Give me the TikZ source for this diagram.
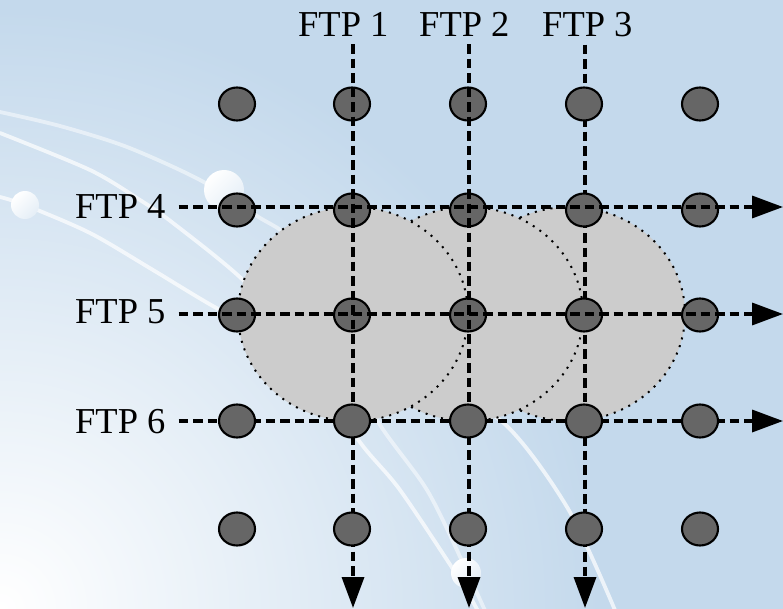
\documentclass[tikz,border=0pt]{standalone}
\usepackage{fontspec}
\setmainfont{Liberation Serif}
\usetikzlibrary{arrows.meta,shapes.geometric}
\definecolor{sky}{HTML}{C4D9EC}
\definecolor{dotgray}{HTML}{666666}
\definecolor{zone}{HTML}{CCCCCC}

\begin{document}
\begin{tikzpicture}[x=1pt,y=-1pt,
  dot/.style={ellipse, draw=black, line width=2.1pt, fill=dotgray,
    minimum width=36pt, minimum height=33pt, inner sep=0pt},
  flow/.style={line width=3.5pt, dash pattern=on 9.5pt off 5pt,
    -{Triangle[length=31pt,width=22pt]}},
  zonefill/.style={fill=zone, draw=black, line width=2pt,
    dash pattern=on 2pt off 6pt},
  toplbl/.style={font=\fontsize{36.5}{40}\selectfont, anchor=base west,
    inner xsep=0pt, inner ysep=7pt},
  sidelbl/.style={font=\fontsize{36.5}{40}\selectfont, anchor=base west,
    inner xsep=13pt, inner ysep=0pt},
  swoosh/.style={white, line width=3.8pt, opacity=0.7, line cap=round},
  glow/.style={top color=white, bottom color=sky!45!white, shading angle=45},
]
\useasboundingbox (0,0) rectangle (783,609);

% backdrop: pale blue, lightening toward the lower left corner
\fill[sky] (0,0) rectangle (783,609);
\begin{scope}
  \clip (0,0) rectangle (783,609);
  \shade[inner color=white, outer color=sky] (0,609) circle[radius=600pt];
  % light streaks
  \draw[swoosh, opacity=0.5] plot[smooth] coordinates {(0,112) (60,126) (127,147) (200,180)
    (257,216) (295,245) (340,340) (377,420) (427,490) (463,563) (487,615)};
  \draw[swoosh] plot[smooth] coordinates {(0,133) (90,170) (140,200) (173,223)
    (243,280) (300,345) (357,438) (400,490) (460,580) (480,615)};
  \draw[swoosh] plot[smooth] coordinates {(0,197) (25,205) (90,233) (153,270)
    (220,310) (300,350) (420,392) (500,420) (567,507) (617,615)};
  \shade[glow] (25,205) circle[radius=14pt];
  \shade[glow] (224,190) circle[radius=20pt];
  \shade[glow] (466,573) circle[radius=15pt];
\end{scope}

% coverage zones
\path[zonefill] (570,314) ellipse[x radius=115pt, y radius=107pt];
\path[zonefill] (468,314) ellipse[x radius=115pt, y radius=107pt];
\path[zonefill] (353,314) ellipse[x radius=115pt, y radius=107pt];

% grid positions
\def\cA{237} \def\cB{352} \def\cC{468} \def\cD{584} \def\cE{700}
\def\rA{104} \def\rB{210} \def\rC{315} \def\rD{421} \def\rE{529}

% dots lying beneath every flow line
\node[dot] (d-1-1) at (\cA,\rA) {};
\node[dot] (d-1-2) at (\cB,\rA) {};
\node[dot] (d-1-3) at (\cC,\rA) {};
\node[dot] (d-1-5) at (\cE,\rA) {};
\node[dot] (d-2-1) at (\cA,\rB) {};
\node[dot] (d-2-2) at (\cB,\rB) {};
\node[dot] (d-2-3) at (\cC,\rB) {};
\node[dot] (d-2-5) at (\cE,\rB) {};
\node[dot] (d-3-1) at (\cA,\rC) {};
\node[dot] (d-3-2) at (\cB,\rC) {};
\node[dot] (d-3-3) at (\cC,\rC) {};
\node[dot] (d-3-5) at (\cE,\rC) {};

% labels
\node[toplbl] (l1) at (298,37) {FTP 1};
\node[toplbl] (l2) at (419,37) {FTP 2};
\node[toplbl] (l3) at (542,37) {FTP 3};
\node[sidelbl] (l4) at (62,218.5) {FTP 4};
\node[sidelbl] (l5) at (62,323) {FTP 5};
\node[sidelbl] (l6) at (62,433) {FTP 6};

% free ends of the flows
\coordinate (v1e) at (353,608);
\coordinate (v2e) at (469,608);
\coordinate (v3e) at (585,608);
\coordinate (h4e) at (783,207);
\coordinate (h5e) at (783,314);
\coordinate (h6e) at (783,421);

% FTP 3 runs beneath its own column of dots
\draw[flow] (l3.south -| v3e) -- (v3e);
\node[dot] (d-1-4) at (\cD,\rA) {};
\node[dot] (d-2-4) at (\cD,\rB) {};
\node[dot] (d-3-4) at (\cD,\rC) {};

% remaining flows
\draw[flow] (l1.south -| v1e) -- (v1e);
\draw[flow] (l2.south -| v2e) -- (v2e);
\draw[flow] (l4.east |- h4e) -- (h4e);
\draw[flow] (l5.east |- h5e) -- (h5e);
\draw[flow] (l6.east |- h6e) -- (h6e);

% lower dots sit on top of the flows
\node[dot] (d-4-1) at (\cA,\rD) {};
\node[dot] (d-4-2) at (\cB,\rD) {};
\node[dot] (d-4-3) at (\cC,\rD) {};
\node[dot] (d-4-4) at (\cD,\rD) {};
\node[dot] (d-4-5) at (\cE,\rD) {};
\node[dot] (d-5-1) at (\cA,\rE) {};
\node[dot] (d-5-2) at (\cB,\rE) {};
\node[dot] (d-5-3) at (\cC,\rE) {};
\node[dot] (d-5-4) at (\cD,\rE) {};
\node[dot] (d-5-5) at (\cE,\rE) {};
\end{tikzpicture}
\end{document}
